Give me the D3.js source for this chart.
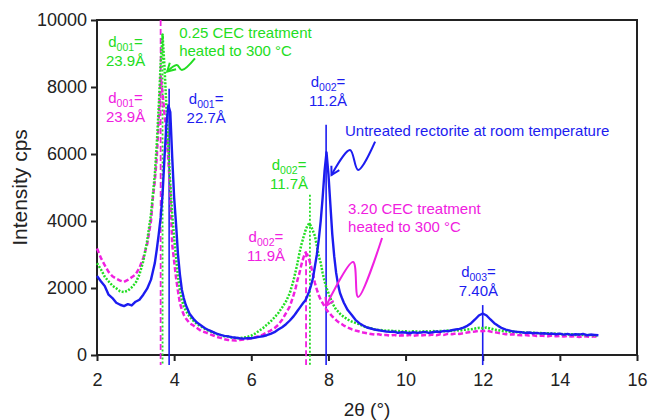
<!DOCTYPE html>
<html>
<head>
<meta charset="utf-8">
<script src="https://d3js.org/d3.v7.min.js"></script>
<style>
  body { margin: 0; background: #fff; }
  svg { display: block; font-family: "Liberation Sans", Arial, sans-serif; }
</style>
</head>
<body>
<svg id="chart" width="651" height="420"></svg>
<script>
// 2theta grid (degrees), finer around the peaks
const twoTheta = [
  2.0, 2.1, 2.2, 2.3, 2.4, 2.5, 2.6, 2.7, 2.8, 2.9, 3.0, 3.1, 3.2, 3.3, 3.4,
  3.45, 3.5, 3.55, 3.6, 3.65, 3.7, 3.75, 3.8, 3.85, 3.9, 3.95, 4.0, 4.05, 4.1, 4.15, 4.2, 4.25, 4.3,
  4.4, 4.5, 4.6, 4.7, 4.8, 4.9, 5.0, 5.1, 5.2, 5.3, 5.4, 5.5, 5.6, 5.7, 5.8, 5.9, 6.0, 6.1, 6.2, 6.3,
  6.4, 6.5, 6.6, 6.7, 6.8, 6.9, 7.0, 7.1,
  7.15, 7.2, 7.25, 7.3, 7.35, 7.4, 7.45, 7.5, 7.55, 7.6, 7.65, 7.7, 7.75, 7.8, 7.85, 7.9, 7.95, 8.0,
  8.05, 8.1, 8.15, 8.2, 8.25, 8.3, 8.35, 8.4,
  8.5, 8.6, 8.7, 8.8, 8.9, 9.0, 9.1, 9.2, 9.3, 9.4, 9.5, 9.6, 9.7, 9.8, 9.9, 10.0, 10.1, 10.2, 10.3, 10.4,
  10.5, 10.6, 10.7, 10.8, 10.9, 11.0, 11.1, 11.2, 11.3, 11.4, 11.5, 11.6, 11.7, 11.8, 11.9, 12.0, 12.1,
  12.2, 12.3, 12.4, 12.5, 12.6, 12.7, 12.8, 12.9, 13.0, 13.1, 13.2, 13.3, 13.4, 13.5, 13.6, 13.7, 13.8,
  13.9, 14.0, 14.1, 14.2, 14.3, 14.4, 14.5, 14.6, 14.7, 14.8, 14.9, 15.0
];

// untreated rectorite at room temperature (blue)
const untreated = [
  2360, 2200, 2060, 1800, 1700, 1560, 1500, 1460, 1520, 1480, 1590, 1650, 1800, 1980, 2250,
  2500, 2750, 3150, 3600, 4100, 4800, 5900, 6900, 7450, 7250, 5900, 4700, 3900, 3000, 2400, 1950, 1700, 1500,
  1230, 1080, 960, 880, 800, 740, 690, 640, 600, 570, 555, 530, 515, 500, 490, 505, 500, 520, 540, 560,
  590, 630, 680, 760, 830, 920, 1030, 1160,
  1240, 1320, 1400, 1480, 1560, 1630, 1750, 1900, 2080, 2300, 2650, 3000, 3450, 4000, 4700, 5500, 6050, 5400,
  4500, 3600, 2950, 2450, 2100, 1850, 1700, 1560,
  1340, 1200, 1050, 950, 880, 820, 790, 760, 740, 720, 700, 690, 700, 660, 680, 670, 650, 680, 660, 670,
  690, 660, 680, 700, 690, 720, 710, 740, 760, 780, 820, 870, 950, 1060, 1180, 1240, 1180,
  1060, 950, 870, 800, 760, 730, 700, 690, 680, 660, 670, 650, 660, 640, 650, 630, 640,
  620, 640, 610, 630, 600, 620, 610, 630, 590, 610, 600, 590
];

// 0.25 CEC treatment heated to 300 C (green)
const cec025 = [
  2740, 2560, 2340, 2200, 2070, 1990, 1900, 1880, 1920, 2020, 2150, 2400, 2800, 3400, 4200,
  4800, 5400, 6300, 7400, 8700, 9550, 8600, 7400, 6200, 5100, 4200, 3500, 2900, 2350, 1950, 1650, 1450, 1330,
  1150, 1020, 920, 850, 780, 720, 680, 630, 600, 560, 550, 520, 510, 500, 520, 540, 580, 640, 720, 800,
  900, 1000, 1120, 1250, 1420, 1600, 1850, 2250,
  2500, 2750, 3050, 3300, 3500, 3700, 3850, 3930, 3850, 3700, 3550, 3250, 2950, 2750, 2450, 2200, 2000, 1850,
  1700, 1550, 1450, 1350, 1300, 1230, 1180, 1140,
  1060, 1000, 960, 920, 860, 820, 800, 760, 750, 740, 720, 730, 710, 720, 700, 710, 690, 710, 700, 690,
  710, 700, 720, 700, 720, 710, 730, 720, 740, 730, 750, 760, 770, 790, 810, 800, 820,
  790, 760, 740, 720, 710, 690, 700, 680, 670, 680, 660, 670, 650, 660, 640, 650, 630,
  640, 620, 630, 610, 620, 600, 610, 600, 590, 600, 580, 590
];

// 3.20 CEC treatment heated to 300 C (magenta)
const cec320 = [
  3180, 2900, 2680, 2480, 2350, 2280, 2220, 2180, 2240, 2320, 2400, 2600, 2900, 3300, 4000,
  4700, 5200, 5900, 7000, 8300, 7800, 7200, 6600, 5800, 4900, 3300, 2800, 2300, 1900, 1550, 1350, 1200, 1100,
  950, 880, 800, 720, 680, 630, 590, 540, 510, 470, 450, 440, 430, 450, 460, 480, 500, 530, 560, 610,
  670, 730, 800, 900, 1050, 1250, 1450, 1800,
  2000, 2250, 2450, 2700, 2900, 3050, 3000, 2850, 2650, 2400, 2150, 1950, 1780, 1650, 1550, 1450, 1350, 1280,
  1220, 1150, 1100, 1040, 990, 950, 920, 880,
  820, 770, 730, 700, 670, 650, 630, 610, 620, 590, 600, 580, 600, 570, 590, 580, 600, 570, 590, 580,
  600, 590, 610, 590, 620, 600, 630, 620, 640, 630, 650, 670, 690, 700, 720, 710, 730,
  700, 680, 660, 640, 620, 610, 620, 600, 590, 600, 580, 590, 570, 580, 570, 560, 580,
  560, 570, 550, 570, 550, 560, 540, 560, 550, 540, 560, 550
];

const xTicks = [2, 4, 6, 8, 10, 12, 14, 16];
const yTicks = [0, 2000, 4000, 6000, 8000, 10000];

// peak marker lines: position, top value, series
const peakPos = [3.65, 3.70, 3.87, 7.42, 7.52, 7.94, 12.0];
const peakTop = [10000, 9600, 7950, 3100, 4780, 6870, 1490];
const peakSeries = ["m", "g", "b", "m", "g", "b", "b"];

// d-spacing labels
const dIndex = ["001", "001", "001", "002", "002", "002", "003"];
const dValue = ["23.9Å", "23.9Å", "22.7Å", "11.2Å", "11.7Å", "11.9Å", "7.40Å"];
const dSeries = ["g", "m", "b", "b", "g", "m", "b"];
const dAt = [[2.74, 9194], [2.74, 7522], [4.83, 7492], [7.99, 8000], [6.98, 5522], [6.38, 3373], [11.89, 2328]];

const colors = { b: "#1c1cf0", g: "#22dd22", m: "#f020e0" };

const width = 651, height = 420;
const margin = { top: 20, right: 14, bottom: 65, left: 97 };

const svg = d3.select("#chart");

const x = d3.scaleLinear().domain([2, 16]).range([margin.left, width - margin.right]);
const y = d3.scaleLinear().domain([0, 10000]).range([height - margin.bottom, margin.top]);

// arrow marker
const defs = svg.append("defs");
Object.keys(colors).forEach(k => {
  defs.append("marker")
    .attr("id", "arr-" + k)
    .attr("viewBox", "-10 -6 12 12")
    .attr("refX", 0).attr("refY", 0)
    .attr("markerWidth", 12).attr("markerHeight", 12)
    .attr("markerUnits", "userSpaceOnUse")
    .attr("orient", "auto-start-reverse")
    .append("path")
    .attr("d", "M-8,-4.5L0,0L-8,4.5")
    .attr("fill", "none")
    .attr("stroke", colors[k])
    .attr("stroke-width", 2);
});

// frame
svg.append("rect")
  .attr("x", x(2)).attr("y", y(10000))
  .attr("width", x(16) - x(2)).attr("height", y(0) - y(10000))
  .attr("fill", "none").attr("stroke", "#222").attr("stroke-width", 2);

// axes
const xAxis = svg.append("g")
  .attr("transform", `translate(0,${y(0)})`)
  .call(d3.axisBottom(x).tickValues(xTicks).tickSize(6).tickPadding(12).tickFormat(d3.format("d")));
const yAxis = svg.append("g")
  .attr("transform", `translate(${x(2)},0)`)
  .call(d3.axisLeft(y).tickValues(yTicks).tickSize(6).tickPadding(4).tickFormat(d3.format("d")));
[xAxis, yAxis].forEach(a => {
  a.select(".domain").remove();
  a.selectAll(".tick line").attr("stroke", "#222").attr("stroke-width", 2);
  a.selectAll(".tick text").attr("fill", "#222").style("font-size", "18px")
    .style("font-family", "'Liberation Sans', Arial, sans-serif");
});

// axis titles
svg.append("text")
  .attr("x", (x(2) + x(16)) / 2).attr("y", 416)
  .attr("text-anchor", "middle").attr("fill", "#222").style("font-size", "19px")
  .text("2θ (°)");
svg.append("text")
  .attr("transform", `translate(27,${(y(0) + y(10000)) / 2}) rotate(-90)`)
  .attr("text-anchor", "middle").attr("fill", "#222").style("font-size", "21px")
  .text("Intensity cps");

// peak lines
svg.append("g").selectAll("line")
  .data(peakPos.map((p, i) => ({ p, top: peakTop[i], s: peakSeries[i] })))
  .join("line")
  .attr("x1", d => x(d.p)).attr("x2", d => x(d.p))
  .attr("y1", d => y(d.top)).attr("y2", y(-300))
  .attr("stroke", d => colors[d.s])
  .attr("stroke-width", d => d.s === "b" ? 1.6 : 1.8)
  .attr("stroke-dasharray", d => d.s === "m" ? "6,3" : d.s === "g" ? "2,2" : null);

// series
const line = d3.line().x(d => x(d[0])).y(d => y(d[1]));
const series = [
  { s: "m", v: cec320, dash: "5,2.5" },
  { s: "g", v: cec025, dash: "2,1.5" },
  { s: "b", v: untreated, dash: null }
];
svg.append("g").selectAll("path")
  .data(series)
  .join("path")
  .attr("d", d => line(twoTheta.map((t, i) => [t, d.v[i]])))
  .attr("fill", "none")
  .attr("stroke", d => colors[d.s])
  .attr("stroke-width", d => d.s === "b" ? 2.4 : 2.5)
  .attr("stroke-linejoin", "round")
  .attr("stroke-dasharray", d => d.dash);

// d-spacing labels
const dl = svg.append("g").style("font-size", "15px").attr("text-anchor", "middle");
dAt.forEach((p, i) => {
  const t = dl.append("text")
    .attr("x", x(p[0])).attr("y", y(p[1]))
    .attr("fill", colors[dSeries[i]]);
  t.append("tspan").text("d");
  t.append("tspan").attr("dy", 4).style("font-size", "10.5px").text(dIndex[i]);
  t.append("tspan").attr("dy", -4).text("=");
  dl.append("text")
    .attr("x", x(p[0])).attr("y", y(p[1]) + 18.5)
    .attr("fill", colors[dSeries[i]])
    .text(dValue[i]);
});

// descriptive notes
const notes = [
  { s: "g", at: [4.13, 9448], lines: ["0.25 CEC treatment", "heated to 300 °C"] },
  { s: "b", at: [8.43, 6552], lines: ["Untreated rectorite at room temperature"] },
  { s: "m", at: [8.51, 4209], lines: ["3.20 CEC treatment", "heated to 300 °C"] }
];
notes.forEach(n => {
  n.lines.forEach((l, j) => {
    svg.append("text")
      .attr("x", x(n.at[0])).attr("y", y(n.at[1]) + j * 18)
      .attr("fill", colors[n.s]).style("font-size", "15px")
      .text(l);
  });
});

// squiggle arrows: tip, hump, trough, end
const arrows = [
  { s: "g", pts: [[3.82, 8460], [4.07, 8657], [4.20, 8507], [4.54, 8857]] },
  { s: "b", pts: [[8.08, 5373], [8.56, 6119], [8.77, 5522], [9.21, 6367]] },
  { s: "m", pts: [[7.94, 1463], [8.64, 2776], [8.77, 1731], [9.39, 3493]] }
];
const squiggle = d3.line().x(d => x(d[0])).y(d => y(d[1])).curve(d3.curveCatmullRom.alpha(0.5));
arrows.forEach(a => {
  svg.append("path")
    .attr("d", squiggle(a.pts))
    .attr("fill", "none")
    .attr("stroke", colors[a.s])
    .attr("stroke-width", 2)
    .attr("marker-start", `url(#arr-${a.s})`);
});
</script>
</body>
</html>
